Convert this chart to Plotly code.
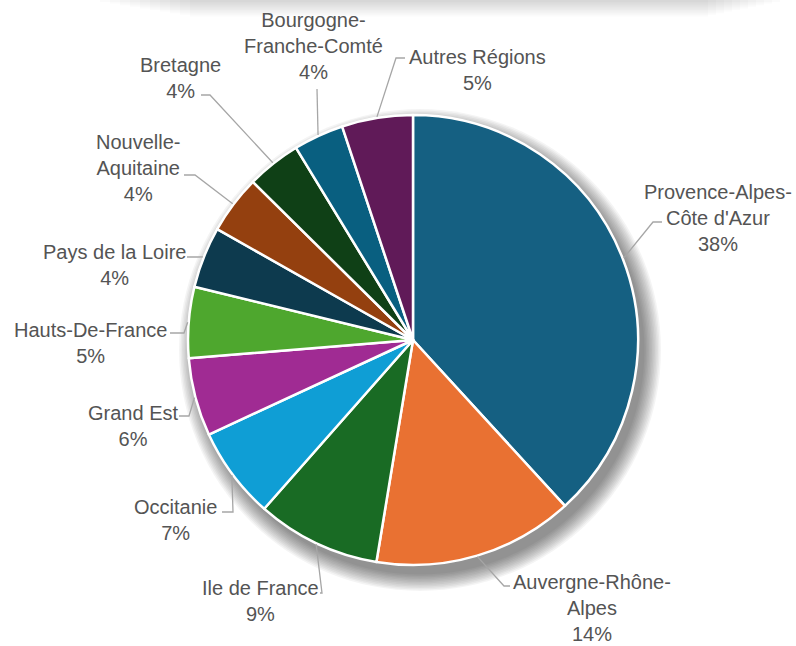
import math
import plotly.graph_objects as go

# ---------------- data ----------------
regions = [
    "Provence-Alpes-Côte d'Azur",
    "Auvergne-Rhône-Alpes",
    "Ile de France",
    "Occitanie",
    "Grand Est",
    "Hauts-De-France",
    "Pays de la Loire",
    "Nouvelle-Aquitaine",
    "Bretagne",
    "Bourgogne-Franche-Comté",
    "Autres Régions",
]
values = [38.2, 14.4, 8.9, 6.6, 5.6, 5.1, 4.4, 4.2, 3.9, 3.6, 5.1]
label_text = [
    "Provence-Alpes-<br>Côte d'Azur",
    "Auvergne-Rhône-<br>Alpes",
    "Ile de France",
    "Occitanie",
    "Grand Est",
    "Hauts-De-France",
    "Pays de la Loire",
    "Nouvelle-<br>Aquitaine",
    "Bretagne",
    "Bourgogne-<br>Franche-Comté",
    "Autres Régions",
]
colors = ["#156082", "#E97132", "#196B24", "#0F9ED5", "#A02B93", "#4EA72E",
          "#0D3A4E", "#94400F", "#0F4016", "#095F80", "#601A58"]

# ---------------- layout (pixels) ----------------
W, H = 796, 646
CX, CY, R = 413, 340, 225
# label block centre (x, y), leader attach point (x, y), elbow point (x, y)
label_pos = [
    (718, 218, 662, 222, 653, 222),
    (592, 608, 510, 586, 504, 586),
    (260, 601, 320, 593, 322, 593),
    (175, 520, 222, 512, 233, 512),
    (133, 426, 179, 416, 189, 416),
    (90, 343, 170, 333, 184, 333),
    (115, 265, 187, 257, 198, 257),
    (138, 168, 184, 175, 195, 175),
    (180, 78, 201, 95, 210, 95),
    (313, 46, 317, 89, 317, 89),
    (477, 70, 405, 58, 396, 58),
]

def px(x):
    return x / W

def py(y):
    return 1 - y / H

fig = go.Figure()
fig.add_trace(go.Pie(
    labels=regions, values=values, sort=False, direction="clockwise", rotation=0,
    marker=dict(colors=colors, line=dict(color="white", width=2.5)),
    textinfo="none", hoverinfo="label+percent", showlegend=False,
    domain=dict(x=[px(CX - R), px(CX + R)], y=[py(CY + R), py(CY - R)]),
))

shapes = []
# soft drop shadow behind the pie
for k in range(12):
    rr = R + 16 - k * 1.5
    shapes.append(dict(type="circle", xref="paper", yref="paper", layer="below",
                       x0=px(CX + 7 - rr), x1=px(CX + 7 + rr),
                       y0=py(CY + 10 + rr), y1=py(CY + 10 - rr),
                       fillcolor="rgba(0,0,0,0.045)", line=dict(width=0)))
# faint top shading band
for k in range(10):
    shapes.append(dict(type="rect", xref="paper", yref="paper", layer="below",
                       x0=px(100 + k * 10), x1=px(780 - k * 8),
                       y0=py(2 + k * 1.6), y1=py(0),
                       fillcolor="rgba(0,0,0,0.014)", line=dict(width=0)))

annotations = []
total = sum(values)
cum = 0.0
for i, v in enumerate(values):
    mid = (cum + v / 2) / total * 2 * math.pi
    cum += v
    ex = CX + (R + 1) * math.sin(mid)
    ey = CY - (R + 1) * math.cos(mid)
    lx, ly, ax, ay, bx, by = label_pos[i]
    pct = f"{v / total * 100:.0f}%"
    annotations.append(dict(
        x=px(lx), y=py(ly), xref="paper", yref="paper",
        text=f"{label_text[i]}<br>{pct}", showarrow=False, align="center",
        xanchor="center", yanchor="middle",
        font=dict(family="Liberation Sans, Arial, sans-serif", size=20, color="#545454"),
    ))
    path = f"M {px(ex)} {py(ey)} L {px(bx)} {py(by)} L {px(ax)} {py(ay)}"
    shapes.append(dict(type="path", xref="paper", yref="paper", path=path,
                       line=dict(color="#A6A6A6", width=1.3)))

fig.update_layout(
    width=W, height=H, margin=dict(l=0, r=0, t=0, b=0),
    paper_bgcolor="white", plot_bgcolor="white",
    shapes=shapes, annotations=annotations,
)
fig.write_html("out.html")
